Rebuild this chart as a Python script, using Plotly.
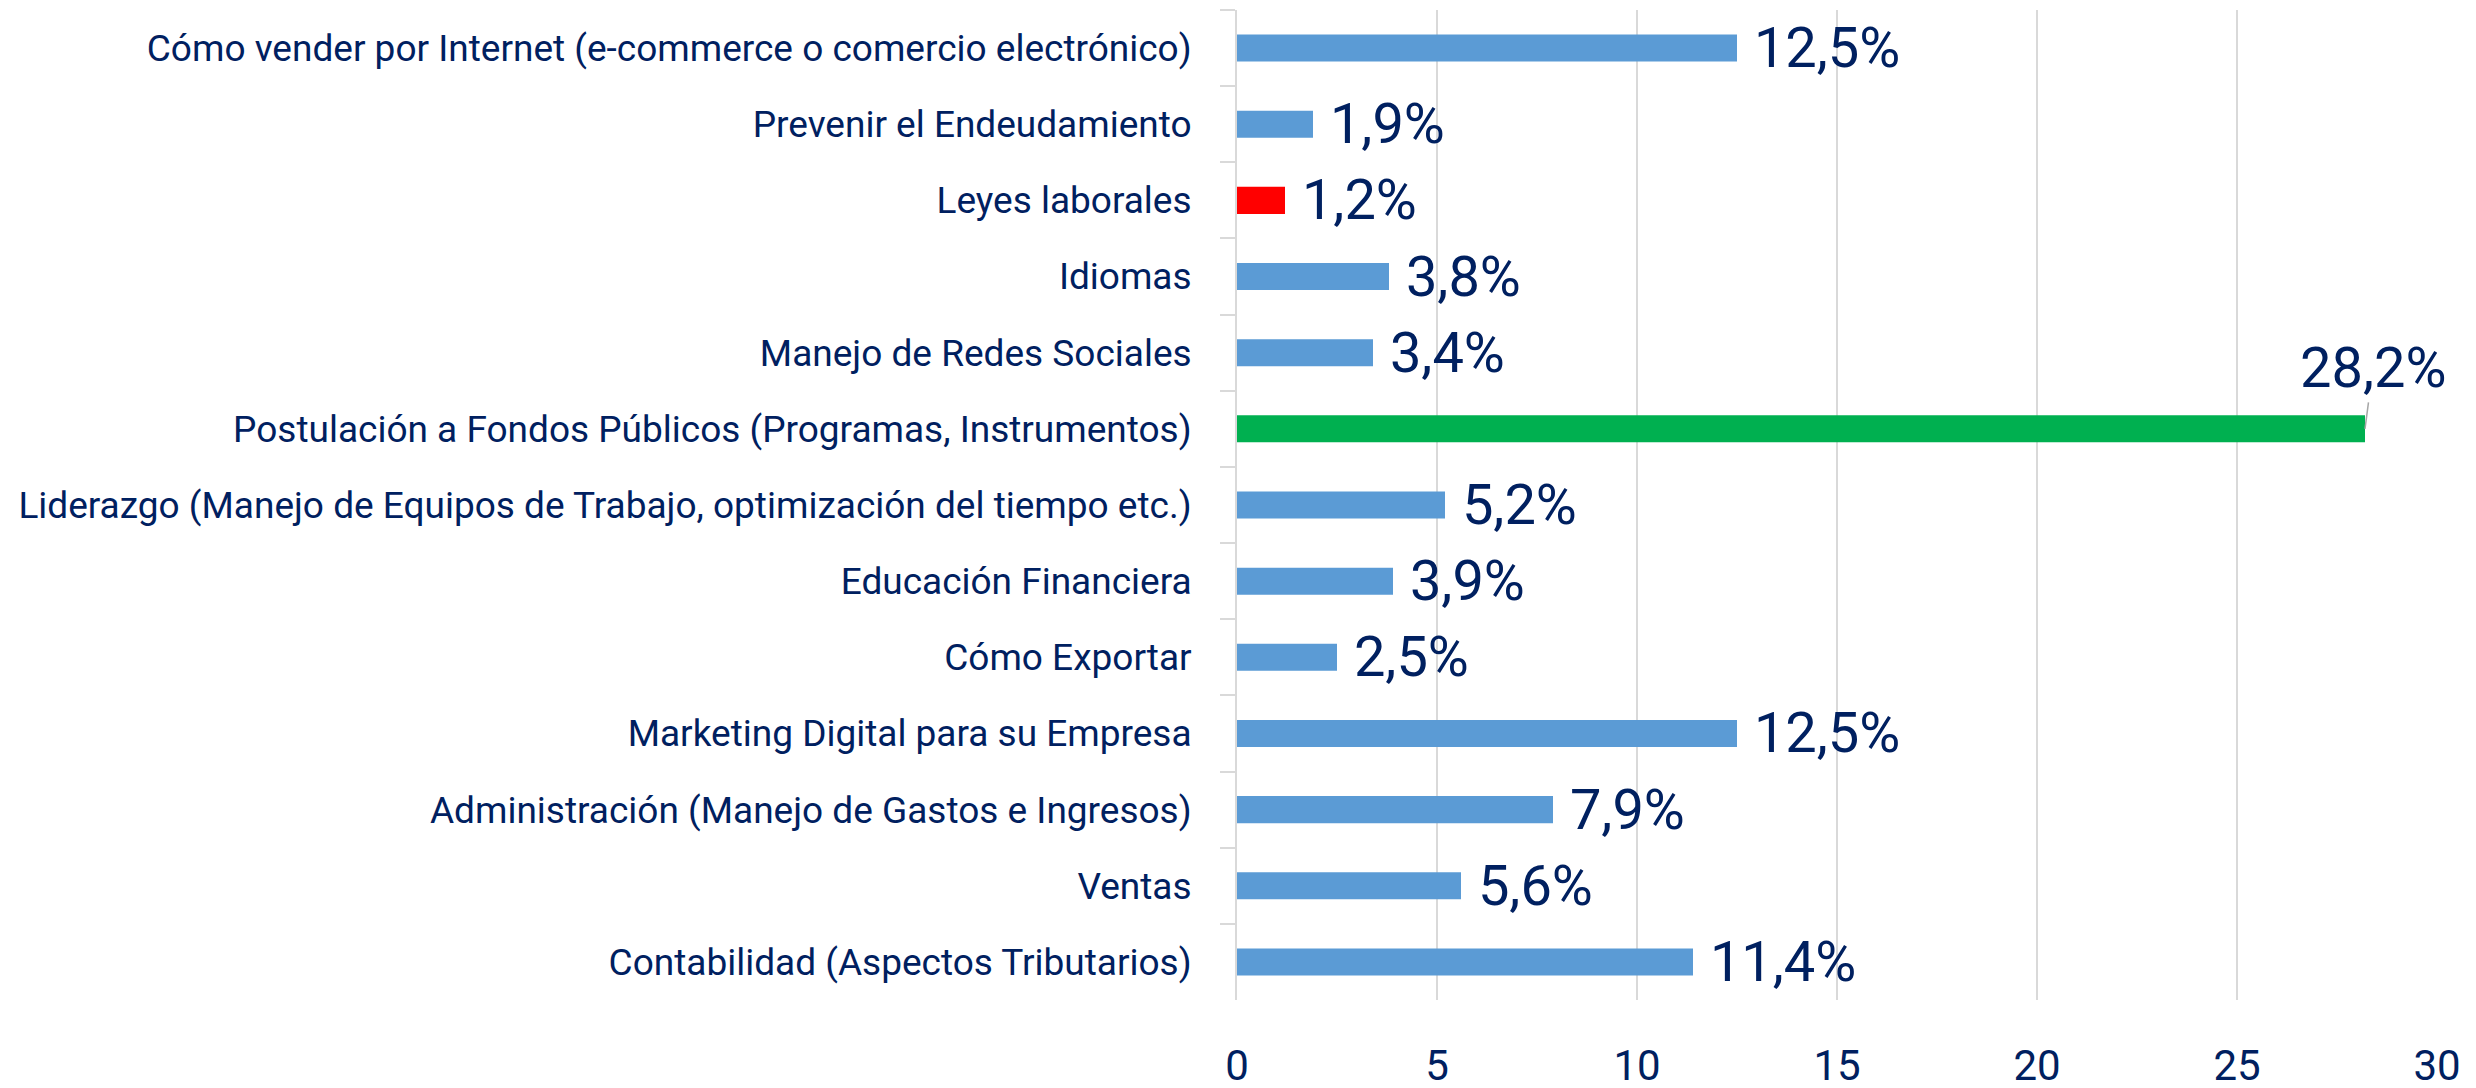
import plotly.graph_objects as go

categories = [
    "Cómo vender por Internet (e-commerce o comercio electrónico)",
    "Prevenir el Endeudamiento",
    "Leyes laborales",
    "Idiomas",
    "Manejo de Redes Sociales",
    "Postulación a Fondos Públicos (Programas, Instrumentos)",
    "Liderazgo (Manejo de Equipos de Trabajo, optimización del tiempo etc.)",
    "Educación Financiera",
    "Cómo Exportar",
    "Marketing Digital para su Empresa",
    "Administración (Manejo de Gastos e Ingresos)",
    "Ventas",
    "Contabilidad (Aspectos Tributarios)",
]
values = [12.5, 1.9, 1.2, 3.8, 3.4, 28.2, 5.2, 3.9, 2.5, 12.5, 7.9, 5.6, 11.4]
x_ticks = [0, 5, 10, 15, 20, 25, 30]

BLUE, RED, GREEN = "#5B9BD5", "#FF0000", "#00B050"
NAVY = "#002060"
highlight = {"Leyes laborales": RED,
             "Postulación a Fondos Públicos (Programas, Instrumentos)": GREEN}
colors = [highlight.get(c, BLUE) for c in categories]

def fmt(v):
    return f"{v:.1f}%".replace(".", ",")

max_i = values.index(max(values))
texts = ["" if i == max_i else fmt(v) for i, v in enumerate(values)]

fig = go.Figure(go.Bar(
    x=values, y=categories, orientation="h",
    marker=dict(color=colors, line=dict(width=0)),
    text=texts, texttemplate=" %{text}", textposition="outside",
    textfont=dict(family="Roboto", size=56, color=NAVY),
    constraintext="none", cliponaxis=False, width=0.355,
    hoverinfo="skip",
))

fig.add_annotation(
    x=values[max_i], y=categories[max_i], text=fmt(values[max_i]),
    showarrow=True, arrowhead=0, arrowwidth=1.5, arrowcolor="#A6A6A6",
    ax=8, ay=-61, font=dict(family="Roboto", size=56, color=NAVY),
)

fig.update_layout(
    width=2476, height=1088,
    margin=dict(l=1229, r=47, t=2, b=96),
    paper_bgcolor="white", plot_bgcolor="white",
    showlegend=False,
    font=dict(family="Roboto", color=NAVY),
)
fig.update_xaxes(
    range=[0, 30], tickvals=x_ticks, ticktext=[str(t) for t in x_ticks],
    showgrid=True, gridcolor="#D9D9D9", gridwidth=2, zeroline=False,
    showline=False, ticks="", ticklabelstandoff=37, automargin=False,
    tickfont=dict(family="Roboto", size=42, color=NAVY),
)
fig.update_yaxes(
    autorange="reversed", showgrid=False, showline=True,
    linecolor="#D9D9D9", linewidth=2, automargin=False,
    ticks="outside", tickson="boundaries", ticklen=15, tickcolor="#D9D9D9",
    tickwidth=2, ticklabelstandoff=36,
    tickfont=dict(family="Roboto", size=37, color=NAVY),
)

fig.write_html("out.html")
